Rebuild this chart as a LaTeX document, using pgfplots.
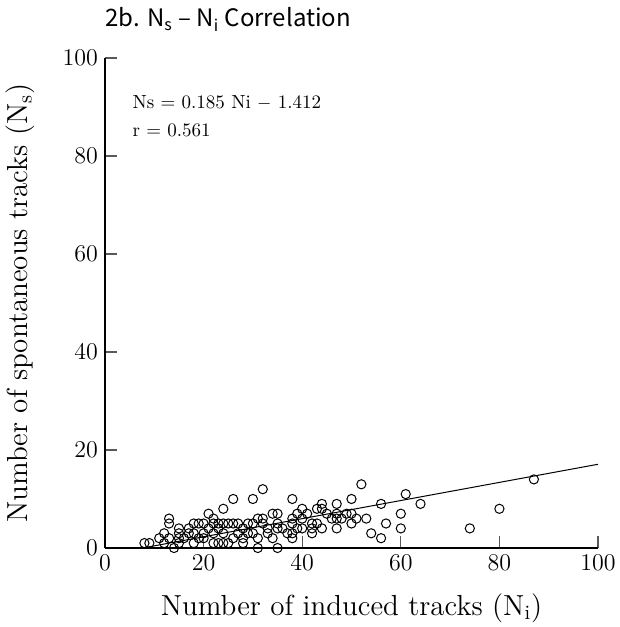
\documentclass[border=0pt]{standalone}
\usepackage{pgfplots}
\pgfplotsset{compat=1.18}
\usepackage{pgfplotstable}
\usepackage{fontspec}
\newfontfamily\titlefont{Noto Sans CJK JP}

\pgfplotstableread{
x y
8 1
9 1
11 2
12 3
12 1
13 6
13 5
13 2
14 0
15 4
15 3
15 2
15 1
16 2
17 4
17 3
18 5
18 3
18 1
19 5
19 2
20 2
20 5
20 3
21 7
21 4
22 6
22 5
22 3
22 1
23 5
23 1
23 4
24 8
24 5
24 3
24 1
25 5
25 1
26 10
26 5
26 2
27 5
27 3
28 4
28 2
28 1
29 5
29 3
30 10
30 5
30 3
31 6
31 2
31 0
32 12
32 6
32 5
33 3
33 4
34 7
34 2
35 7
35 5
35 4
35 0
36 4
37 3
38 10
38 6
38 5
38 3
38 2
39 7
39 4
40 8
40 6
40 4
41 7
42 5
42 4
42 3
43 8
43 5
44 9
44 8
44 4
45 7
46 6
47 9
47 7
47 6
47 4
48 6
49 7
50 10
50 7
50 5
51 6
52 13
53 6
54 3
56 9
56 2
57 5
60 7
60 4
61 11
64 9
74 4
80 8
87 14
}\datatable

\pgfplotstableread{
x y
8 0.068
100 17.088
}\fitline

\begin{document}
\begin{tikzpicture}
\begin{axis}[
  scale only axis,
  width=246.5pt, height=245pt,
  xmin=0, xmax=100, ymin=0, ymax=100,
  axis x line=bottom, axis y line=left,
  axis line style={-, black, line width=0.6pt},
  xtick={0,20,40,60,80,100},
  ytick={0,20,40,60,80,100},
  tick align=inside,
  major tick length=6pt,
  tick style={black!65, line width=0.6pt},
  ticklabel style={font=\fontsize{13}{15}\selectfont},
  xlabel={Number of induced tracks (N$_{\mathrm{i}}$)},
  ylabel={Number of spontaneous tracks (N$_{\mathrm{s}}$)},
  every axis x label/.style={at={(rel axis cs:0.5,-0.1224)}, anchor=center, font=\fontsize{14.5}{17}\selectfont},
  every axis y label/.style={at={(rel axis cs:-0.1724,0.5)}, anchor=center, rotate=90, font=\fontsize{14.5}{17}\selectfont},
  clip=false,
]
\addplot[black, line width=0.5pt, no markers] table[x=x, y=y] {\fitline};
\addplot[only marks, mark=o, mark size=2.3pt, mark options={fill=white, draw=black, line width=0.5pt}] table[x=x, y=y] {\datatable};
\node[anchor=west, inner sep=0pt, font=\fontsize{9.5}{11}\selectfont] at (axis cs:5.5,90.8) {Ns = 0.185 Ni $-$ 1.412};
\node[anchor=west, inner sep=0pt, font=\fontsize{9.5}{11}\selectfont] at (axis cs:5.5,85.3) {r = 0.561};
\node[anchor=base west, inner sep=0pt, font=\titlefont\fontsize{12}{14}\selectfont] at (rel axis cs:0,1) [yshift=15.5pt] {2b. N\textsubscript{s} – N\textsubscript{i} Correlation};
\end{axis}
\pgfresetboundingbox
\useasboundingbox (-52.5pt,-39.5pt) rectangle (257.5pt,274pt);
\end{tikzpicture}
\end{document}
